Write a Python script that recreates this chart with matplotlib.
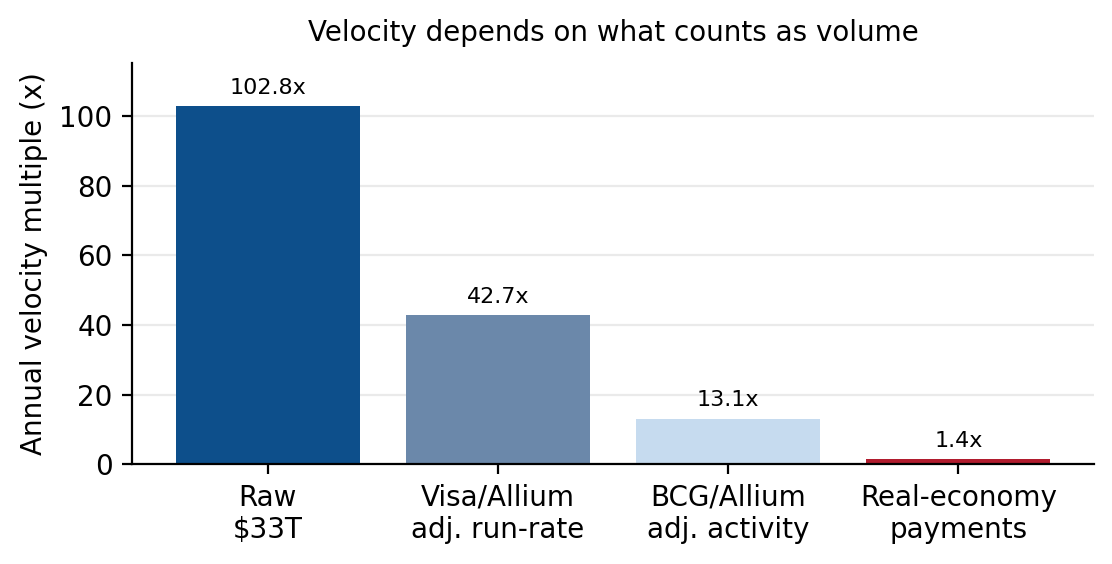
import numpy as np
import matplotlib.pyplot as plt

categories = ["Raw\n$33T", "Visa/Allium\nadj. run-rate", "BCG/Allium\nadj. activity", "Real-economy\npayments"]
velocity = [102.8, 42.7, 13.1, 1.4]
colors = ["#0d4f8b", "#6b88aa", "#c6dbef", "#b11c2e"]

fig, ax = plt.subplots(figsize=(5.56, 2.82), dpi=200)
x = np.arange(len(categories))
bars = ax.bar(x, velocity, color=colors, width=0.8, zorder=2)
for b, v in zip(bars, velocity):
    ax.annotate(f"{v:.1f}x", (b.get_x() + b.get_width() / 2, v),
                xytext=(0, 3), textcoords="offset points",
                ha="center", va="bottom", fontsize=8)

ax.set_xticks(x)
ax.set_xticklabels(categories)
ax.set_ylabel("Annual velocity multiple (x)")
ax.set_title("Velocity depends on what counts as volume", fontsize=10, pad=8)
ax.set_ylim(0, max(velocity) * 1.12)
ax.grid(axis="y", color="#dddddd", alpha=0.6, linewidth=0.8, zorder=3)
ax.spines["top"].set_visible(False)
ax.spines["right"].set_visible(False)
fig.subplots_adjust(left=0.1187, right=0.984, bottom=0.177, top=0.888)
plt.savefig("out.png")
